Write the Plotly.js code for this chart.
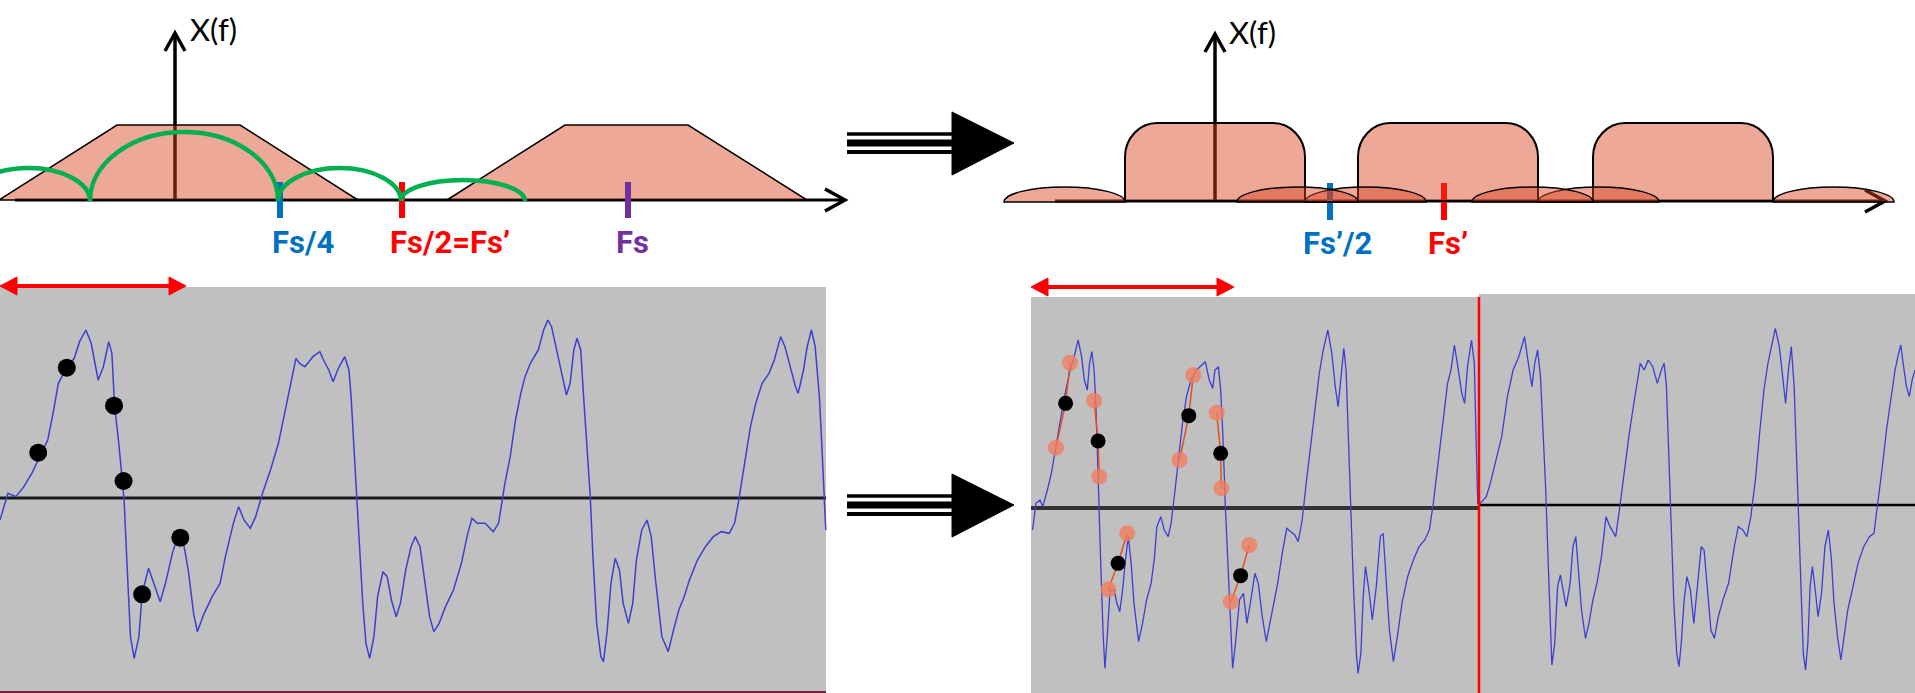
<!DOCTYPE html>
<html><head><meta charset="utf-8">
<script src="https://cdn.plot.ly/plotly-3.0.1.min.js"></script>
<style>html,body{margin:0;padding:0;background:#fff;}#chart{width:1915px;height:693px;}</style>
</head><body><div id="chart"></div>
<script>
// ================= DATA =================
// --- top-left spectrum (pixel space) ---
const specLBase = 200;
const trapTopY = 125;
const trap1X = [-1, 117, 240, 358];
const trap2X = [447, 565, 688, 807];
const archX0 = [-33, 90, 278, 401];
const archX1 = [90, 278, 401, 525];
const archTop = [168, 132, 168, 180];
const tickLX = [280, 402, 628];
const tickLColor = ['#0070C0', '#FF0000', '#7030A0'];
const tickLLabel = ['Fs/4', 'Fs/2=Fs’', 'Fs'];
const tickLLabelX = [303, 450, 632];

// --- top-right spectrum (pixel space) ---
const specRBase = 201;
const boxLeft = [1125, 1358, 1593];
const boxRight = [1305, 1538, 1773];
const boxTop = 123;
const lobeX0 = [1004, 1305, 1237, 1538, 1472, 1773];
const lobeX1 = [1125, 1426, 1358, 1659, 1593, 1894];
const lobeTop = 187;
const tickRX = [1330, 1444];
const tickRColor = ['#0070C0', '#FF0000'];
const tickRLabel = ['Fs’/2', 'Fs’'];
const tickRLabelX = [1337, 1448];

// --- bottom-left waveform (trace units) ---
const leftWaveX = [0,15,30,45,60,75,90,100,110,125,
 140,150,162,172,185,195,205,211,216,224,
 231,234,240,246,253,262,268,280,290,302,
 312,325,335,345,355,365,372,385,400,415,
 425,440,450,460,472,482,495,510,525,540,
 550,558,565,575,590,603,610,620,628,638,
 650,658,662,668,672,678,684,690,697,705,
 712,722,730,738,747,755,765,775,783,792,
 800,810,818,828,840,855,870,882,890,900,
 915,930,940,945,952,962,972,982,990,1000,
 1015,1025,1033,1040,1050,1060,1068,1075,1082,1088,
 1095,1100,1108,1113,1118,1125,1133,1138,1145,1152,
 1160,1168,1175,1185,1193,1200,1210,1220,1228,1236,
 1248,1260,1270,1280,1290,1300,1315,1330,1345,1360,
 1375,1385,1392,1398,1405,1415,1425,1437,1450,1460,
 1472,1480,1490,1500,1505,1515,1522,1530,1537,1545,
 1550,1555,1557];
const leftWaveY = [750,670,680,650,610,560,510,430,340,295,
 265,215,180,220,330,290,215,250,407,520,
 633,690,900,1100,1165,1100,970,895,940,995,
 940,850,800,810,900,1030,1085,1030,980,940,
 860,760,710,750,775,740,670,600,520,400,
 330,265,280,290,260,245,270,300,335,295,
 260,300,380,550,680,850,1000,1120,1165,1100,
 980,905,920,990,1040,1000,900,830,800,830,
 930,1040,1085,1060,1010,960,880,790,745,760,
 760,785,760,710,640,560,450,370,320,280,
 240,180,150,170,240,320,375,340,240,205,
 240,370,560,680,860,1060,1160,1175,1080,940,
 865,900,1000,1060,1000,870,780,750,800,930,
 1100,1145,1080,1020,980,930,870,830,800,785,
 790,760,700,640,580,470,400,340,310,270,
 200,230,290,350,370,300,230,180,230,380,
 540,700,780];
const leftDotX = [72, 126, 215, 233, 268, 340];
const leftDotY = [548, 293, 407, 633, 973, 803];

// --- bottom-right waveform (trace units) ---
const rightWaveX = [22,28,35,40,48,55,62,70,78,88,
 95,102,108,113,118,122,126,130,133,136,
 138,142,146,149,153,158,165,170,175,180,
 185,190,195,200,208,215,222,230,236,240,
 247,253,260,265,272,278,285,292,300,310,
 320,325,332,338,342,348,352,356,360,365,
 370,373,378,385,392,398,405,412,418,425,
 432,438,445,452,460,468,475,482,488,495,
 502,510,518,525,532,540,547,553,558,563,
 568,572,576,580,585,590,593,598,602,606,
 612,618,625,632,637,642,648,655,662,670,
 680,690,700,710,718,725,732,738,745,750,
 756,762,768,775,780,785,792,797,800,803,
 807,812,818,825,835,845,855,865,875,885,
 890,895,898,903,908,913,917,922,926,930,
 933,938,943,948,953,958,965,970,975,980,
 985,992,998,1005,1012,1020,1028,1035,1045,1053,
 1060,1068,1075,1082,1088,1095,1102,1110,1118,1125,
 1130,1134,1138,1142,1147,1152,1156,1160,1165,1170,
 1176,1182,1188,1195,1200,1205,1212,1218,1225,1233,
 1243,1253,1260,1268,1275,1282,1290,1298,1305,1312,
 1320,1325,1332,1338,1343,1348,1353,1358,1362,1366,
 1370,1374,1378,1382,1386,1390,1395,1400,1406,1412,
 1418,1423,1428,1434,1440,1446,1452,1460,1470,1480,
 1490,1498,1505,1512,1520,1528,1535,1540,1545,1550,
 1555,1560,1565,1570];
const rightWaveY = [780,700,690,710,660,610,540,460,380,300,
 260,210,260,330,360,280,245,300,400,560,
 700,900,1100,1195,1100,960,960,1000,1025,960,
 870,800,880,1000,1115,1060,990,940,860,770,
 740,780,800,760,660,570,460,380,330,300,
 285,275,330,355,300,290,360,500,700,900,
 1100,1195,1120,990,970,1060,990,910,940,1040,
 1115,1060,1000,940,850,775,785,795,815,750,
 640,520,400,310,240,180,250,350,410,320,
 235,300,480,700,950,1150,1210,1150,980,890,
 960,1050,950,800,790,920,1080,1175,1100,1000,
 920,870,830,810,780,700,600,500,400,340,
 300,225,290,370,400,290,210,280,500,700,
 700,690,680,640,570,500,380,300,260,200,
 260,310,350,280,240,320,460,650,850,1050,
 1185,1120,950,915,960,1010,940,830,800,900,
 1020,1105,1060,990,940,860,740,770,800,700,
 600,500,420,340,280,300,270,290,340,300,
 280,350,550,800,1000,1150,1190,1120,990,920,
 960,1060,950,830,840,950,1080,1105,1040,990,
 940,830,770,780,800,740,630,480,360,280,
 220,175,230,330,400,300,230,350,550,800,
 1000,1150,1200,1120,950,890,960,1040,970,830,
 780,860,1000,1100,1170,1100,1020,960,880,830,
 800,790,700,600,480,380,300,260,225,290,
 350,380,330,300];
// resampling groups: sample (orange) -> interpolated (black) -> sample (orange)
const sampleTopX = [88, 130, 188, 304, 345, 402];
const sampleTopY = [278, 392, 790, 315, 428, 825];
const interpX = [80, 137, 172, 296, 352, 387];
const interpY = [400, 513, 880, 437, 550, 917];
const sampleBotX = [63, 139, 155, 280, 353, 370];
const sampleBotY = [533, 620, 958, 570, 655, 995];

// ================= STYLE =================
const SALMON = 'rgba(216,65,30,0.46)';
const GREEN = '#00B050';
const WAVE = '#3E3ED2';
const GRAY = '#C0C0C0';
const ORANGE = 'rgba(240,125,95,0.8)';

const shapes = [];
const P = (o) => Object.assign({type:'path', xref:'x', yref:'y', layer:'above', fillcolor:'rgba(0,0,0,0)'}, o);
const L = (x0,y0,x1,y1,color,width,layer) => ({type:'line', xref:'x', yref:'y', x0, y0, x1, y1, line:{color, width}, layer: layer||'above'});
const K = 0.5523;
function halfEllipse(x0, x1, b, top, close) {
  const rx = (x1 - x0) / 2, h = b - top, cx = (x0 + x1) / 2;
  return `M ${x0},${b} C ${x0},${b - K*h} ${cx - K*rx},${top} ${cx},${top} C ${cx + K*rx},${top} ${x1},${b - K*h} ${x1},${b}` + (close ? ' Z' : '');
}
function roundedBox(l, r, t, b, rx, ry) {
  return `M ${l},${b} L ${l},${t+ry} C ${l},${t+ry-K*ry} ${l+rx-K*rx},${t} ${l+rx},${t} L ${r-rx},${t} C ${r-rx+K*rx},${t} ${r},${t+ry-K*ry} ${r},${t+ry} L ${r},${b} Z`;
}

// ---- bottom panels (below traces) ----
shapes.push({type:'rect', xref:'x', yref:'y', x0:0, x1:826, y0:287, y1:693, fillcolor:GRAY, line:{width:0}, layer:'below'});
shapes.push({type:'rect', xref:'x', yref:'y', x0:1031, x1:1479, y0:297, y1:693, fillcolor:GRAY, line:{width:0}, layer:'below'});
shapes.push({type:'rect', xref:'x', yref:'y', x0:1479, x1:1915, y0:294, y1:693, fillcolor:GRAY, line:{width:0}, layer:'below'});
shapes.push(L(0,498,826,498,'#1a1a1a',3,'below'));
shapes.push(L(1031,508,1479,508,'#333333',4,'below'));
shapes.push(L(1479,505,1915,505,'#000000',2.5,'below'));
shapes.push(L(0,692,826,692,'#7a1f3d',2,'below'));

// ---- top-left spectrum ----
shapes.push(L(15,specLBase,843,specLBase,'#000',3));
shapes.push(L(175,specLBase,175,34,'#000',3.5));
shapes.push(P({path:'M 165,51 L 175,33 L 185,51', line:{color:'#000', width:3.5}}));
shapes.push(P({path:`M 825,189 L 845,${specLBase} L 825,211`, line:{color:'#000', width:3.5}}));
[trap1X, trap2X].forEach(t => {
  shapes.push(P({path:`M ${t[0]},${specLBase} L ${t[1]},${trapTopY} L ${t[2]},${trapTopY} L ${t[3]},${specLBase} Z`, fillcolor:SALMON, line:{color:'#000', width:1.5}}));
});
tickLX.forEach((x,i) => shapes.push(L(x,182,x,218,tickLColor[i],6)));
archX0.forEach((x0,i) => shapes.push(P({path: halfEllipse(x0, archX1[i], specLBase+1, archTop[i], false), line:{color:GREEN, width:4.5}})));

// ---- top-right spectrum ----
shapes.push(L(1055,specRBase,1883,specRBase,'#000',3));
shapes.push(L(1215,specRBase,1215,35,'#000',3.5));
shapes.push(P({path:'M 1205,52 L 1215,34 L 1225,52', line:{color:'#000', width:3.5}}));
shapes.push(P({path:`M 1865,190 L 1885,${specRBase} L 1865,212`, line:{color:'#000', width:3.5}}));
tickRX.forEach((x,i) => shapes.push(L(x,183,x,220,tickRColor[i],6)));
boxLeft.forEach((l,i) => shapes.push(P({path: roundedBox(l, boxRight[i], boxTop, specRBase, 32, 34), fillcolor:SALMON, line:{color:'#000', width:2}})));
lobeX0.forEach((x0,i) => shapes.push(P({path: halfEllipse(x0, lobeX1[i], specRBase+1, lobeTop, true), fillcolor:SALMON, line:{color:'#000', width:1.5}})));

// ---- big "implies" arrows ----
[[143],[505]].forEach(([cy]) => {
  shapes.push(L(847,cy-9,952,cy-9,'#000',3.5));
  shapes.push(L(847,cy,952,cy,'#000',7));
  shapes.push(L(847,cy+9,952,cy+9,'#000',4));
  shapes.push(P({path:`M 952,${cy-31} L 1014,${cy} L 952,${cy+32} Z`, fillcolor:'#000', line:{color:'#000', width:1}}));
});

// ---- red double arrows & seam ----
shapes.push(L(12,286,174,286,'#FF0000',4));
shapes.push(P({path:'M 0,286 L 17,277 L 17,295 Z', fillcolor:'#FF0000', line:{color:'#FF0000', width:1}}));
shapes.push(P({path:'M 186,286 L 169,277 L 169,295 Z', fillcolor:'#FF0000', line:{color:'#FF0000', width:1}}));
shapes.push(L(1043,287,1222,287,'#FF0000',4));
shapes.push(P({path:'M 1031,287 L 1048,278 L 1048,296 Z', fillcolor:'#FF0000', line:{color:'#FF0000', width:1}}));
shapes.push(P({path:'M 1234,287 L 1217,278 L 1217,296 Z', fillcolor:'#FF0000', line:{color:'#FF0000', width:1}}));
shapes.push(L(1479,297,1479,693,'#FF0000',2.5));

// ---- annotations ----
const FONT = 'Lato, "Liberation Sans", sans-serif';
const BFONT = 'Roboto, "Liberation Sans", sans-serif';
const annotations = [
  {x:188, y:29, text:'X(f)', xanchor:'left', yanchor:'middle', font:{family:FONT, size:31, color:'#000'}},
  {x:1227, y:32, text:'X(f)', xanchor:'left', yanchor:'middle', font:{family:FONT, size:31, color:'#000'}}
];
tickLLabel.forEach((t,i) => annotations.push({x:tickLLabelX[i], y:242, text:t, xanchor:'center', yanchor:'middle', font:{family:BFONT, size:31, weight:'bold', color:tickLColor[i]}}));
tickRLabel.forEach((t,i) => annotations.push({x:tickRLabelX[i], y:243, text:t, xanchor:'center', yanchor:'middle', font:{family:BFONT, size:31, weight:'bold', color:tickRColor[i]}}));
annotations.forEach(a => { a.xref = 'x'; a.yref = 'y'; a.showarrow = false; });

// ---- traces ----
const traces = [
  {x:[0], y:[0], xaxis:'x', yaxis:'y', mode:'markers', marker:{opacity:0}, hoverinfo:'skip'},
  {x:leftWaveX, y:leftWaveY, xaxis:'x2', yaxis:'y2', mode:'lines', line:{color:WAVE, width:1.5}, hoverinfo:'skip'},
  {x:leftDotX, y:leftDotY, xaxis:'x2', yaxis:'y2', mode:'markers', marker:{size:18, color:'#000'}, hoverinfo:'skip'},
  {x:rightWaveX, y:rightWaveY, xaxis:'x3', yaxis:'y3', mode:'lines', line:{color:WAVE, width:1.3}, hoverinfo:'skip'}
];
sampleTopX.forEach((_,i) => traces.push({
  x:[sampleTopX[i], interpX[i], sampleBotX[i]], y:[sampleTopY[i], interpY[i], sampleBotY[i]],
  xaxis:'x3', yaxis:'y3', mode:'lines', line:{color:'#E5501E', width:1.5}, hoverinfo:'skip'}));
traces.push({x:sampleTopX.concat(sampleBotX), y:sampleTopY.concat(sampleBotY), xaxis:'x3', yaxis:'y3', mode:'markers', marker:{size:16, color:ORANGE}, hoverinfo:'skip'});
traces.push({x:interpX, y:interpY, xaxis:'x3', yaxis:'y3', mode:'markers', marker:{size:15, color:'#000'}, hoverinfo:'skip'});

const ax = {visible:false, fixedrange:true};
const layout = {
  width:1915, height:693, margin:{l:0, r:0, t:0, b:0},
  paper_bgcolor:'#fff', plot_bgcolor:'rgba(0,0,0,0)', showlegend:false,
  xaxis:Object.assign({domain:[0,1], range:[0,1915]}, ax),
  yaxis:Object.assign({domain:[0,1], range:[693,0]}, ax),
  xaxis2:Object.assign({domain:[0, 830/1915], range:[0,1565], anchor:'y2'}, ax),
  yaxis2:Object.assign({domain:[0, 1-270/693], range:[1269,0], anchor:'x2'}, ax),
  xaxis3:Object.assign({domain:[1020/1915, 1], range:[0,1570], anchor:'y3'}, ax),
  yaxis3:Object.assign({domain:[0, 1-270/693], range:[1269,0], anchor:'x3'}, ax),
  shapes, annotations
};
Plotly.newPlot('chart', traces, layout, {displayModeBar:false, staticPlot:true});
</script></body></html>
